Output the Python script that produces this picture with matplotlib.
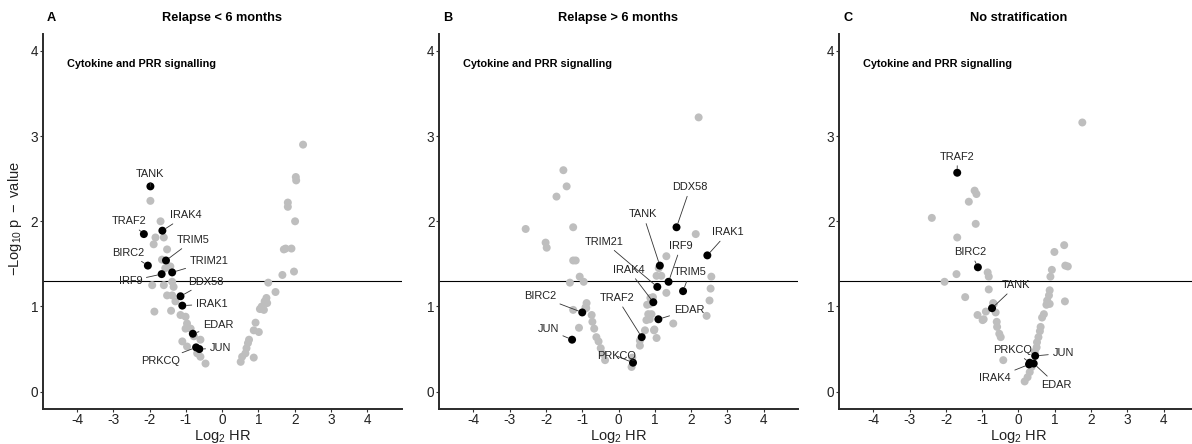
import matplotlib
matplotlib.use("Agg")
import matplotlib.pyplot as plt

plt.rcParams['font.family'] = ['Liberation Sans', 'DejaVu Sans']
plt.rcParams['mathtext.fontset'] = 'custom'
plt.rcParams['mathtext.rm'] = 'Liberation Sans'
plt.rcParams['mathtext.it'] = 'Liberation Sans:italic'
plt.rcParams['mathtext.bf'] = 'Liberation Sans:bold'

# ---------------- DATA ----------------
panel_letters = ["A", "B", "C"]
panel_titles = ["Relapse < 6 months", "Relapse > 6 months", "No stratification"]
subtitle = "Cytokine and PRR signalling"
x_ticks = [-4, -3, -2, -1, 0, 1, 2, 3, 4]
y_ticks = [0, 1, 2, 3, 4]
p_threshold = 1.301  # -log10(0.05)

# Panel A (Relapse < 6 months): background genes
a_gray_x = [-1.98, -1.70, -1.84, -1.89, -1.52, -1.61, -1.66, -1.43, -1.57, -1.93,
            -1.61, -1.38, -1.34, -1.52, -1.38, -1.29, -1.87, -1.41, -1.15, -1.01,
            -0.97, -0.87, -1.01, -0.78, -1.10, -0.97, -0.60, -0.60, -0.46, -0.69,
            2.23, 2.03, 2.04, 1.81, 1.81, 2.01, 1.70, 1.75, 1.91, 1.66,
            1.98, 1.27, 1.47, 1.22, 1.17, 1.24, 1.09, 1.04, 1.15, 0.92,
            0.87, 1.01, 0.74, 0.71, 0.67, 0.64, 0.87, 0.55, 0.51]
a_gray_y = [2.24, 2.00, 1.81, 1.73, 1.67, 1.81, 1.55, 1.47, 1.45, 1.25,
            1.25, 1.29, 1.23, 1.13, 1.13, 1.06, 0.94, 0.95, 0.90, 0.88,
            0.80, 0.74, 0.74, 0.65, 0.59, 0.53, 0.61, 0.41, 0.33, 0.45,
            2.90, 2.52, 2.48, 2.22, 2.17, 2.00, 1.67, 1.68, 1.68, 1.37,
            1.41, 1.28, 1.17, 1.10, 1.06, 1.04, 1.00, 0.97, 0.96, 0.81,
            0.72, 0.70, 0.61, 0.57, 0.51, 0.45, 0.40, 0.41, 0.35]
a_genes = ["TANK", "TRAF2", "IRAK4", "TRIM5", "BIRC2", "IRF9", "TRIM21",
           "DDX58", "IRAK1", "EDAR", "PRKCQ", "JUN"]
a_gene_x = [-1.98, -2.16, -1.65, -1.55, -2.05, -1.67, -1.38, -1.15, -1.10, -0.81, -0.72, -0.63]
a_gene_y = [2.41, 1.85, 1.89, 1.54, 1.48, 1.38, 1.40, 1.12, 1.01, 0.68, 0.52, 0.50]

# Panel B (Relapse > 6 months)
b_gray_x = [2.21, -1.52, -1.43, -1.71, -2.56, -1.25, -2.01, -1.98, -1.18, -1.25,
            -1.07, -1.34, -0.96, -0.88, -0.91, -1.25, -0.74, -0.72, -0.67, -1.09,
            -0.61, -0.55, -0.49, -0.42, -0.37, 0.38, 0.36, 0.59, 0.59, 0.73,
            0.77, 0.82, 0.86, 0.95, 0.98, 1.05, 1.05, 1.18, 1.32, 1.32,
            1.51, 2.13, 2.56, 2.54, 2.51, 2.43, 0.91, 0.86, 1.11, 0.79,
            0.88, 0.99, -0.89]
b_gray_y = [3.22, 2.60, 2.41, 2.29, 1.91, 1.93, 1.75, 1.69, 1.54, 1.54,
            1.35, 1.28, 1.29, 1.04, 0.99, 0.96, 0.90, 0.82, 0.74, 0.75,
            0.64, 0.59, 0.51, 0.44, 0.37, 0.40, 0.29, 0.54, 0.60, 0.72,
            0.84, 0.91, 1.03, 1.11, 0.72, 0.63, 1.36, 1.36, 1.59, 1.16,
            0.80, 1.85, 1.35, 1.21, 1.07, 0.89, 0.91, 0.85, 1.45, 1.02,
            1.10, 0.73, 0.98]
b_genes = ["DDX58", "TANK", "IRAK1", "IRF9", "TRIM21", "TRIM5", "IRAK4",
           "BIRC2", "EDAR", "TRAF2", "JUN", "PRKCQ"]
b_gene_x = [1.60, 1.14, 2.45, 1.38, 1.07, 1.78, 0.96, -1.00, 1.10, 0.64, -1.28, 0.40]
b_gene_y = [1.93, 1.48, 1.60, 1.29, 1.23, 1.18, 1.05, 0.93, 0.85, 0.64, 0.61, 0.34]

# Panel C (No stratification)
c_gray_x = [1.76, -1.21, -1.16, -1.37, -2.39, -1.18, -1.69, -1.71, -2.04, -0.85,
            -0.82, -0.82, -1.47, -0.68, -0.63, -1.13, -0.96, -0.99, -0.60, -0.59,
            -0.53, -0.49, -0.42, -0.70, -0.90, 1.26, 0.99, 1.29, 1.36, 1.28,
            0.92, 0.88, 0.86, 0.84, 0.79, 0.86, 0.77, 0.70, 0.65, 0.61,
            0.59, 0.55, 0.51, 0.50, 0.45, 0.36, 0.31, 0.25, 0.17]
c_gray_y = [3.16, 2.36, 2.32, 2.23, 2.04, 1.97, 1.81, 1.38, 1.29, 1.40,
            1.35, 1.20, 1.11, 1.03, 0.93, 0.90, 0.85, 0.84, 0.82, 0.76,
            0.68, 0.64, 0.37, 1.04, 0.94, 1.72, 1.64, 1.48, 1.47, 1.06,
            1.43, 1.35, 1.19, 1.13, 1.07, 1.03, 1.02, 0.91, 0.87, 0.76,
            0.71, 0.64, 0.58, 0.52, 0.47, 0.29, 0.23, 0.17, 0.12]
c_genes = ["TRAF2", "BIRC2", "TANK", "JUN", "PRKCQ", "IRAK4", "EDAR"]
c_gene_x = [-1.69, -1.12, -0.73, 0.46, 0.31, 0.29, 0.42]
c_gene_y = [2.57, 1.46, 0.98, 0.42, 0.34, 0.32, 0.33]

# ---------------- LAYOUT ----------------
# label positions (data coords) for the repelled gene labels
a_label_xy = [(-1.98, 2.56), (-2.56, 2.00), (-1.00, 2.07), (-0.80, 1.78),
              (-2.58, 1.63), (-2.53, 1.30), (-0.36, 1.53), (-0.44, 1.29),
              (-0.29, 1.03), (-0.11, 0.78), (-1.70, 0.36), (-0.05, 0.51)]
b_label_xy = [(1.98, 2.40), (0.68, 2.08), (3.02, 1.87), (1.72, 1.71),
              (-0.40, 1.76), (1.97, 1.40), (0.28, 1.43), (-2.17, 1.12),
              (1.94, 0.96), (-0.04, 1.10), (-1.94, 0.73), (-0.06, 0.42)]
c_label_xy = [(-1.69, 2.76), (-1.32, 1.64), (-0.06, 1.25), (1.23, 0.45),
              (-0.15, 0.49), (-0.65, 0.16), (1.05, 0.08)]

panels = [
    (a_gray_x, a_gray_y, a_genes, a_gene_x, a_gene_y, a_label_xy),
    (b_gray_x, b_gray_y, b_genes, b_gene_x, b_gene_y, b_label_xy),
    (c_gray_x, c_gray_y, c_genes, c_gene_x, c_gene_y, c_label_xy),
]

W, H = 1192, 444
fig = plt.figure(figsize=(W / 100, H / 100), dpi=100)
lefts_px = [42.7, 439.0, 839.0]
width_px = 359.0
top_px, bottom_px = 33.9, 408.7
ax_h = bottom_px - top_px

for i, (gx, gy, genes, kx, ky, lxy) in enumerate(panels):
    ax = fig.add_axes([lefts_px[i] / W, (H - bottom_px) / H,
                       width_px / W, ax_h / H])
    ax.set_xlim(-4.95, 4.95)
    ax.set_ylim(-0.2, 4.2)
    for s in ["top", "right"]:
        ax.spines[s].set_visible(False)
    for s in ["left", "bottom"]:
        ax.spines[s].set_linewidth(1.4)
        ax.spines[s].set_color("#2b2b2b")
    ax.set_xticks(x_ticks)
    ax.set_yticks(y_ticks)
    ax.set_xticklabels([str(t) for t in x_ticks])
    ax.tick_params(axis="both", length=2.5, width=0.8, color="#333333",
                   labelsize=9.8, labelcolor="#222222", pad=0.8)

    ax.axhline(p_threshold, color="black", lw=0.8, zorder=1)
    ax.scatter(gx, gy, s=33, color="#BEBEBE", edgecolors="none", zorder=2)
    ax.scatter(kx, ky, s=33, color="black", edgecolors="none", zorder=4)

    for g, x, y, (tx, ty) in zip(genes, kx, ky, lxy):
        ax.annotate(g, xy=(x, y), xytext=(tx, ty), ha="center", va="center",
                    fontsize=7.9, color="#222222", zorder=5,
                    arrowprops=dict(arrowstyle="-", color="#333333", lw=0.6,
                                    shrinkA=1, shrinkB=3))

    ax.text(-4.28, 3.85, subtitle, fontsize=7.8, fontweight="bold",
            ha="left", va="center")
    ax.text(0.5, 1.0 + 15.5 / ax_h, panel_titles[i], transform=ax.transAxes,
            fontsize=9.2, fontweight="bold", ha="center", va="center")
    ax.text(9.0 / width_px, 1.0 + 15.5 / ax_h, panel_letters[i], transform=ax.transAxes,
            fontsize=9.2, fontweight="bold", ha="center", va="center")
    ax.text(0.5, -(440.0 - bottom_px) / ax_h, r"$\mathrm{Log}_2\ \mathrm{HR}$",
            transform=ax.transAxes, fontsize=10.5, ha="center", va="baseline",
            color="#222222")

fig.text(15 / W, 1 - 219 / H, r"$-\mathrm{Log}_{10}\ \mathrm{p}\ -\ \mathrm{value}$",
         rotation=90, ha="center", va="center", fontsize=10.5, color="#222222")

fig.savefig("out.png", dpi=100)
